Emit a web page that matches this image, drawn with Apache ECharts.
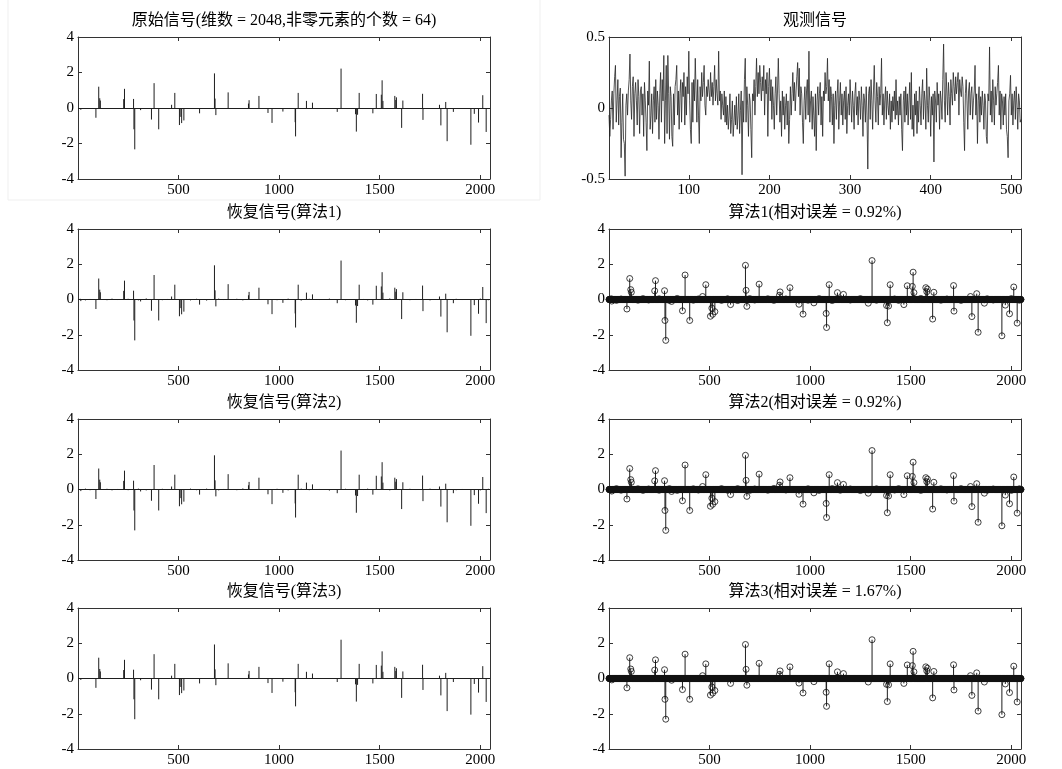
<!DOCTYPE html>
<html><head><meta charset="utf-8">
<script src="https://cdn.jsdelivr.net/npm/echarts@6/dist/echarts.min.js"></script>
<style>html,body{margin:0;padding:0;background:#fff}#c{width:1062px;height:769px}</style>
</head><body><div id="c"></div>
<script>
const N = 2048;
const spikeIdx = [15,90,104,109,112,228,232,277,279,283,312,366,379,402,466,482,505,512,516,527,605,679,682,686,747,848,851,900,945,965,1019,1080,1082,1095,1136,1166,1289,1308,1380,1384,1390,1398,1466,1483,1508,1512,1516,1575,1580,1583,1609,1615,1713,1715,1797,1804,1828,1835,1866,1953,1970,1991,2012,2029];
const origVal = [-0.1,-0.55,1.2,0.55,0.42,0.5,1.08,0.51,-1.2,-2.33,-0.12,-0.65,1.4,-1.2,0.18,0.85,-0.96,-0.5,-0.85,-0.7,-0.3,1.95,0.53,-0.4,0.88,0.25,0.44,0.68,-0.28,-0.84,-0.2,-0.8,-1.6,0.85,0.4,0.3,-0.22,2.22,-0.35,-1.33,-0.38,0.85,-0.3,0.79,0.75,1.56,0.4,0.68,0.45,0.6,-1.12,0.42,0.8,-0.67,0.18,-0.98,0.34,-1.87,-0.22,-2.07,-0.33,-0.82,0.72,-1.35];
const rec1Val = [-0.09,-0.54,1.19,0.56,0.41,0.49,1.07,0.5,-1.19,-2.32,-0.11,-0.64,1.39,-1.19,0.17,0.84,-0.95,-0.49,-0.84,-0.69,-0.29,1.94,0.52,-0.39,0.87,0.24,0.43,0.67,-0.27,-0.83,-0.19,-0.79,-1.59,0.84,0.39,0.29,-0.21,2.21,-0.34,-1.32,-0.37,0.84,-0.29,0.78,0.74,1.55,0.39,0.67,0.44,0.59,-1.11,0.41,0.79,-0.66,0.17,-0.97,0.33,-1.86,-0.21,-2.06,-0.32,-0.81,0.71,-1.34];
const rec2Val = [-0.09,-0.54,1.19,0.56,0.41,0.49,1.07,0.5,-1.19,-2.32,-0.11,-0.64,1.39,-1.19,0.17,0.84,-0.95,-0.49,-0.84,-0.69,-0.29,1.94,0.52,-0.39,0.87,0.24,0.43,0.67,-0.27,-0.83,-0.19,-0.79,-1.59,0.84,0.39,0.29,-0.21,2.21,-0.34,-1.32,-0.37,0.84,-0.29,0.78,0.74,1.55,0.39,0.67,0.44,0.59,-1.11,0.41,0.79,-0.66,0.17,-0.97,0.33,-1.86,-0.21,-2.06,-0.32,-0.81,0.71,-1.34];
const rec3Val = [-0.08,-0.53,1.18,0.54,0.4,0.48,1.06,0.5,-1.18,-2.31,-0.1,-0.63,1.38,-1.18,0.16,0.83,-0.94,-0.48,-0.83,-0.68,-0.28,1.93,0.52,-0.38,0.86,0.23,0.43,0.66,-0.26,-0.82,-0.18,-0.78,-1.58,0.83,0.38,0.28,-0.2,2.2,-0.33,-1.31,-0.36,0.83,-0.28,0.77,0.73,1.54,0.38,0.66,0.43,0.58,-1.1,0.4,0.78,-0.65,0.16,-0.96,0.32,-1.85,-0.2,-2.05,-0.31,-0.8,0.7,-1.33];
const noiseIdx = [12,38,61,145,170,198,250,301,340,420,445,560,590,640,700,725,790,820,880,990,1045,1110,1150,1200,1250,1330,1420,1440,1550,1650,1680,1750,1880,1910,2000,2040];
const noise1Val = [0.04,-0.05,0.03,-0.04,0.05,-0.03,0.04,-0.05,0.06,-0.04,0.03,-0.05,0.04,-0.06,0.05,-0.03,0.04,-0.05,0.03,-0.04,0.05,-0.06,0.04,-0.03,0.05,-0.04,0.03,-0.05,0.06,-0.04,0.03,-0.05,0.04,-0.03,0.05,-0.04];
const noise2Val = [-0.03,0.05,-0.04,0.04,-0.05,0.03,-0.04,0.05,-0.05,0.04,-0.03,0.05,-0.04,0.05,-0.05,0.03,-0.04,0.06,-0.03,0.04,-0.05,0.05,-0.04,0.03,-0.06,0.04,-0.03,0.05,-0.05,0.04,-0.03,0.05,-0.04,0.03,-0.05,0.04];
const observed = [
-0.05,-0.2,-0.08,0.05,0.12,-0.15,0.1,0.22,0.3,-0.1,
0.05,0.2,-0.12,0.08,0.14,-0.35,-0.1,0.1,-0.22,-0.25,
-0.48,0.02,0.1,-0.05,0.12,0.2,0.38,0.05,-0.08,0.15,
0.22,-0.2,0.1,0.18,0.05,-0.12,0.2,0.08,-0.18,0.12,
0.15,-0.05,0.1,-0.2,0.18,0.05,-0.1,-0.3,0.12,0.02,
0.33,-0.15,-0.05,0.1,-0.18,0.05,0.15,-0.1,0.2,-0.08,
0.12,0.02,-0.22,0.1,0.25,-0.1,0.2,0.05,0.37,-0.25,
0.05,0.3,-0.18,0.37,0.1,-0.22,0.15,0.08,-0.2,-0.27,
0.1,-0.12,0.15,0.2,0.3,-0.05,0.12,-0.15,0.1,0.2,
-0.1,0.18,0.08,0.25,-0.12,0.15,-0.05,0.22,0.1,0.4,
0.05,-0.15,-0.25,0.18,-0.1,0.2,0.05,0.35,0.12,-0.1,
0.2,-0.05,-0.25,0.15,0.05,0.25,0.08,0.18,0.3,0.02,
-0.05,0.15,0.08,0.2,0.12,0.05,0.25,0.08,0.18,0.02,
0.15,0.3,0.05,0.2,0.1,0.02,0.4,0.05,0.12,-0.08,
0.1,0.02,-0.05,0.12,-0.1,0.08,-0.12,0.02,-0.15,-0.05,
0.1,-0.18,-0.08,0.05,-0.2,-0.1,0.02,-0.12,0.08,-0.15,
-0.05,0.1,-0.18,-0.02,0.12,-0.47,0.05,-0.1,0.2,0.35,
-0.1,0.15,0.02,-0.2,0.1,0.05,-0.15,-0.35,0.1,0.05,
0.2,-0.05,0.15,0.35,0.08,0.25,0.1,0.3,0.18,0.05,
0.22,0.12,0.3,-0.05,0.2,0.1,0.25,-0.2,0.15,0.28,
0.05,0.2,-0.08,0.15,0.02,-0.15,0.1,0.22,-0.05,0.12,
0.35,0.1,-0.1,0.05,-0.2,0.12,-0.05,0.08,-0.15,0.02,
0.1,-0.12,0.05,-0.25,-0.08,0.15,-0.05,0.1,0.25,0.05,
0.18,-0.02,0.12,0.22,0.32,0.08,0.28,-0.05,0.15,0.1,
-0.1,-0.25,0.05,0.15,-0.08,0.12,0.2,-0.05,0.4,-0.1,
0.05,0.12,-0.15,0.08,-0.05,-0.2,0.1,-0.3,0.05,0.15,
-0.05,0.1,0.18,-0.12,0.08,-0.2,0.12,0.05,0.25,0.1,
0.15,0.35,0.05,0.2,-0.1,0.15,0.08,-0.12,0.1,-0.25,
0.02,0.12,-0.08,0.1,0.2,-0.15,0.05,0.18,-0.05,0.1,
-0.12,0.05,0.12,-0.08,0.15,-0.18,0.02,0.1,-0.05,0.2,
0.05,-0.1,0.12,0.02,-0.15,0.1,0.18,-0.05,0.08,-0.12,
0.12,0.05,-0.08,0.15,0.02,-0.2,0.1,0.05,-0.1,0.15,
-0.05,-0.43,0.1,0.15,-0.08,0.2,0.05,-0.15,0.12,0.3,
0.05,-0.1,0.18,0.08,-0.12,0.15,0.02,0.1,0.35,-0.05,
0.1,-0.12,0.05,0.15,-0.08,0.12,0.02,-0.05,0.1,-0.15,
0.05,-0.1,0.08,-0.02,0.12,-0.08,0.2,-0.05,0.05,-0.12,
0.08,-0.05,0.1,-0.15,-0.3,0.05,0.12,-0.1,0.15,-0.05,
0.1,-0.12,0.05,0.18,-0.08,0.25,-0.15,0.02,-0.2,0.1,
-0.05,0.12,-0.18,0.05,-0.1,0.15,0.02,-0.12,0.1,0.2,
-0.08,0.12,0.05,-0.15,0.28,0.02,-0.1,0.15,0.05,-0.2,
0.08,-0.05,0.1,-0.38,0.12,0.05,-0.1,0.18,0.02,0.1,
-0.15,0.12,0.05,-0.08,0.2,0.45,0.05,-0.1,0.25,0.12,
-0.05,0.18,0.08,-0.12,0.2,0.1,0.02,0.25,0.15,0.05,
0.22,0.1,0.18,0.25,-0.05,0.2,0.12,0.08,0.22,0.15,
-0.1,-0.3,0.1,0.2,0.05,-0.15,0.12,0.18,-0.05,0.1,
0.15,-0.08,0.05,0.12,0.3,-0.05,0.1,-0.25,0.05,0.15,
-0.1,0.08,-0.05,0.12,0.02,-0.15,0.1,0.05,-0.2,-0.25,
0.1,0.05,0.43,-0.05,0.12,-0.1,0.2,0.05,-0.12,0.15,
0.02,0.1,0.18,0.3,-0.05,0.12,-0.15,0.1,0.05,-0.12,
0.08,-0.05,0.1,-0.15,-0.2,-0.35,0.05,0.1,0.23,-0.05,
0.1,-0.12,0.05,0.12,-0.08,0.15,0.02,-0.15,0.1,0.05,
-0.1,-0.08];
const xTicksLong = [500,1000,1500,2000];
const xTicksObs = [100,200,300,400,500];
const titles = ['原始信号(维数 = 2048,非零元素的个数 = 64)','观测信号','恢复信号(算法1)','算法1(相对误差 = 0.92%)','恢复信号(算法2)','算法2(相对误差 = 0.92%)','恢复信号(算法3)','算法3(相对误差 = 1.67%)'];

function dense(idx, vals, nIdx, nVals) {
  const a = new Array(N).fill(0);
  idx.forEach((k, i) => { a[k - 1] = vals[i]; });
  if (nIdx) nIdx.forEach((k, i) => { if (a[k - 1] === 0) a[k - 1] = nVals[i]; });
  return a.map((v, i) => [i + 1, v]);
}
function sparse(idx, vals, nIdx, nVals) {
  const out = idx.map((k, i) => [k, vals[i]]);
  if (nIdx) nIdx.forEach((k, i) => out.push([k, nVals[i]]));
  return out;
}

const FONT = '"Liberation Serif","Times New Roman","Noto Sans CJK SC",serif';
const AX = '#333';
const INK = '#1e1e1e';
const colLeft = [78, 609], plotW = 412;
const rowTop = [37, 229, 419, 608], rowH = [142, 141, 141, 141];

const grids = [], xAxes = [], yAxes = [], series = [], graphics = [];
for (let g = 0; g < 8; g++) {
  const r = Math.floor(g / 2), c = g % 2;
  grids.push({left: colLeft[c], top: rowTop[r], width: plotW, height: rowH[r], show: false, containLabel: false});
  const obs = (g === 1);
  const xmin = 1, xmax = obs ? 512 : N;
  const xt = obs ? xTicksObs : xTicksLong;
  const baseX = {type: 'value', gridIndex: g, min: xmin, max: xmax, splitLine: {show: false},
    axisLine: {show: true, onZero: false, lineStyle: {color: AX, width: 1}},
    axisTick: {show: true, inside: true, length: 4, customValues: xt, lineStyle: {color: AX}}};
  xAxes.push(Object.assign({}, baseX, {position: 'bottom',
    axisLabel: {customValues: xt, formatter: function (v) { return String(v); }, fontFamily: FONT, fontSize: 15, color: '#000', margin: 4}}));
  xAxes.push(Object.assign({}, baseX, {position: 'top', axisLabel: {show: false}}));
  const ymin = obs ? -0.5 : -4, ymax = obs ? 0.5 : 4, yint = obs ? 0.5 : 2;
  const baseY = {type: 'value', gridIndex: g, min: ymin, max: ymax, interval: yint, splitLine: {show: false},
    axisLine: {show: true, onZero: false, lineStyle: {color: AX, width: 1}},
    axisTick: {show: true, inside: true, length: 4, lineStyle: {color: AX}}};
  yAxes.push(Object.assign({}, baseY, {position: 'left',
    axisLabel: {formatter: function (v) { return String(v); }, fontFamily: FONT, fontSize: 15, color: '#000', margin: 4}}));
  yAxes.push(Object.assign({}, baseY, {position: 'right', axisLabel: {show: false}}));
  graphics.push({type: 'text', x: colLeft[c] + plotW / 2, y: rowTop[r] - 16,
    style: {text: titles[g], font: '16px ' + FONT, fill: '#000', align: 'center', verticalAlign: 'middle', textAlign: 'center', textVerticalAlign: 'middle'}});
}

function stems(g, data, withBase) {
  const s = {type: 'custom', xAxisIndex: 2 * g, yAxisIndex: 2 * g, data: data, encode: {x: 0, y: 1},
    renderItem: function (params, api) {
      const p0 = api.coord([api.value(0), 0]);
      const p1 = api.coord([api.value(0), api.value(1)]);
      return {type: 'line', shape: {x1: p0[0], y1: p0[1], x2: p1[0], y2: p1[1]}, style: {stroke: INK, lineWidth: 1}};
    }, animation: false, silent: true};
  if (withBase) {
    s.markLine = {silent: true, symbol: ['none', 'none'], label: {show: false}, animation: false,
      lineStyle: {color: INK, width: 1, type: 'solid'}, data: [{yAxis: 0}]};
  }
  return s;
}
function circles(g, data) {
  return {type: 'scatter', xAxisIndex: 2 * g, yAxisIndex: 2 * g, data: data, symbol: 'circle', symbolSize: 6,
    itemStyle: {color: 'rgba(0,0,0,0)', borderColor: '#111', borderWidth: 1}, clip: false,
    progressive: 0, animation: false, silent: true};
}

series.push(stems(0, sparse(spikeIdx, origVal), true));
series.push(stems(2, sparse(spikeIdx, rec1Val, noiseIdx, noise1Val), true));
series.push(stems(4, sparse(spikeIdx, rec2Val, noiseIdx, noise2Val), true));
series.push(stems(6, sparse(spikeIdx, rec3Val), true));

series.push({type: 'custom', xAxisIndex: 2, yAxisIndex: 2, data: observed.map((v, i) => [i + 1, v]), encode: {x: 0, y: 1},
  renderItem: function (params, api) {
    const i = params.dataIndexInside;
    if (i === 0) return null;
    const p0 = api.coord([api.value(0, i - 1), api.value(1, i - 1)]);
    const p1 = api.coord([api.value(0, i), api.value(1, i)]);
    return {type: 'line', shape: {x1: p0[0], y1: p0[1], x2: p1[0], y2: p1[1]}, style: {stroke: '#262626', lineWidth: 0.8}};
  }, animation: false, silent: true});

series.push(stems(3, sparse(spikeIdx, rec1Val, noiseIdx, noise1Val), false));
series.push(circles(3, dense(spikeIdx, rec1Val, noiseIdx, noise1Val)));
series.push(stems(5, sparse(spikeIdx, rec2Val, noiseIdx, noise2Val), false));
series.push(circles(5, dense(spikeIdx, rec2Val, noiseIdx, noise2Val)));
series.push(stems(7, sparse(spikeIdx, rec3Val), false));
series.push(circles(7, dense(spikeIdx, rec3Val)));

graphics.push({type: 'rect', shape: {x: 8, y: -2, width: 532, height: 202}, style: {fill: 'none', stroke: '#efefef', lineWidth: 1}, z: -10});

const chart = echarts.init(document.getElementById('c'), null, {renderer: 'canvas'});
chart.setOption({animation: false, backgroundColor: '#fff', grid: grids, xAxis: xAxes, yAxis: yAxes, series: series, graphic: graphics});
</script>
</body></html>
